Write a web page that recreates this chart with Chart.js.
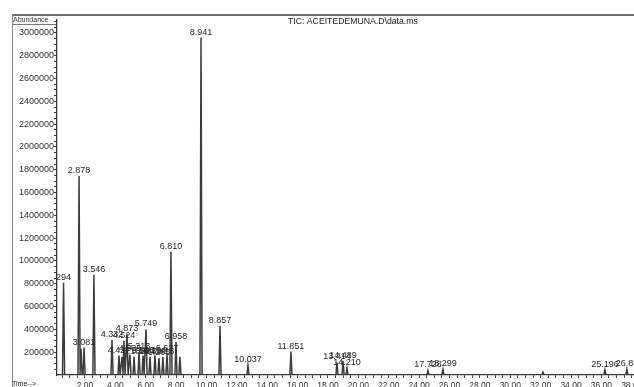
<!DOCTYPE html>
<html>
<head>
<meta charset="utf-8">
<script src="https://cdn.jsdelivr.net/npm/chart.js@4/dist/chart.umd.min.js"></script>
<style>
  html, body { margin: 0; padding: 0; background: #fff; overflow: hidden; }
  #wrap { position: relative; width: 660px; height: 392px; }
</style>
</head>
<body>
<div id="wrap"><canvas id="tic" width="660" height="392"></canvas></div>
<script>
// peak retention positions (x axis units), abundances and their printed labels
const peakTimes = [0.59, 1.61, 1.74, 1.94, 2.59, 3.78, 4.24, 4.44, 4.57, 4.77, 4.96, 5.23, 5.56, 5.82, 6.02, 6.28, 6.61, 6.87, 7.13, 7.40, 7.66, 7.99, 8.25, 9.64, 10.89, 12.73, 15.56, 18.59, 18.99, 19.25, 24.58, 25.57, 32.15, 36.23, 37.68];
const peakHeights = [810000, 1745000, 230000, 240000, 880000, 310000, 170000, 160000, 300000, 360000, 180000, 160000, 200000, 170000, 400000, 160000, 170000, 150000, 160000, 180000, 1080000, 290000, 160000, 2960000, 430000, 85000, 205000, 110000, 125000, 60000, 40000, 50000, 25000, 45000, 50000];
const peakLabels = ["294", "2.878", "", "3.081", "3.546", "4.332", "4.427", "", "4.524", "4.873", "4.935", "5.108", "5.313", "5.506", "5.749", "5.871", "6.104", "6.265", "6.413", "6.627", "6.810", "6.958", "", "8.941", "8.857", "10.037", "11.851", "13.414", "14.489", "14.210", "17.728", "18.299", "", "25.196", "26.89"];

const xMin = 0.158, xMax = 39.2;
const yMax = 3114000;
const xTickLabels = ["2.00", "4.00", "6.00", "8.00", "10.00", "12.00", "14.00", "16.00", "18.00", "20.00", "22.00", "24.00", "26.00", "28.00", "30.00", "32.00", "34.00", "36.00", "38.00"];
const yTickLabels = ["200000", "400000", "600000", "800000", "1000000", "1200000", "1400000", "1600000", "1800000", "2000000", "2200000", "2400000", "2600000", "2800000", "3000000"];
const title = "TIC: ACEITEDEMUNA.D\\data.ms";

// spike trace built from the peak list
const trace = [{ x: xMin, y: 0 }];
peakTimes.forEach((t, i) => {
    trace.push({ x: t - 0.07, y: 0 });
    trace.push({ x: t, y: peakHeights[i] });
    trace.push({ x: t + 0.07, y: 0 });
});
trace.push({ x: xMax, y: 0 });

const FONT = "'Liberation Sans', Arial, sans-serif";

const frame = {
    id: 'frame',
    beforeDraw(chart) {
        const c = chart.ctx;
        c.save();
        c.strokeStyle = '#6e6a78';
        c.lineWidth = 2;
        c.beginPath(); c.moveTo(12, 15); c.lineTo(660, 15); c.stroke();
        c.strokeStyle = '#8a8a8a';
        c.lineWidth = 1;
        c.beginPath(); c.moveTo(12.5, 15); c.lineTo(12.5, 392); c.stroke();
        // Abundance box
        c.fillStyle = '#333';
        c.font = '7px ' + FONT;
        c.textBaseline = 'middle';
        c.fillText('Abundance', 13, 20);
        c.strokeStyle = '#777';
        c.beginPath(); c.moveTo(13, 24.5); c.lineTo(57, 24.5); c.stroke();
        // title
        c.font = '8.7px ' + FONT;
        c.fillStyle = '#222';
        c.textAlign = 'left';
        c.fillText(title, 288, 22);
        // Time label
        c.font = '7px ' + FONT;
        c.fillText('Time-->', 12, 384);
        c.restore();
    },
    afterDatasetsDraw(chart) {
        const c = chart.ctx, xs = chart.scales.x, ys = chart.scales.y;
        c.save();
        c.font = '9px ' + FONT;
        c.fillStyle = '#2a2a2a';
        c.textAlign = 'center';
        c.textBaseline = 'bottom';
        peakTimes.forEach((t, i) => {
            if (!peakLabels[i]) return;
            c.fillText(peakLabels[i], xs.getPixelForValue(t), ys.getPixelForValue(peakHeights[i]) - 1);
        });
        c.restore();
    }
};

new Chart(document.getElementById('tic'), {
    type: 'scatter',
    data: {
        datasets: [{
            data: trace,
            showLine: true,
            borderColor: '#3c3c3c',
            borderWidth: 1.5,
            pointRadius: 0,
            tension: 0
        }]
    },
    options: {
        responsive: false,
        animation: false,
        devicePixelRatio: 1,
        layout: { padding: { top: 20, left: 0, right: 10, bottom: 0 } },
        plugins: { legend: { display: false }, tooltip: { enabled: false } },
        scales: {
            x: {
                type: 'linear',
                min: xMin,
                max: xMax,
                afterBuildTicks(s) {
                    const t = [];
                    for (let v = 0.5; v <= 39; v += 0.5) t.push({ value: v });
                    s.ticks = t;
                },
                afterFit(s) { s.height = 17; },
                grid: { drawOnChartArea: false, drawTicks: true, tickLength: 3, color: '#444' },
                border: { color: '#333', width: 1.3 },
                ticks: {
                    autoSkip: false,
                    maxRotation: 0,
                    padding: 3,
                    color: '#333',
                    font: { family: FONT, size: 8.5 },
                    callback: (v) => {
                        const i = xTickLabels.indexOf(Number(v).toFixed(2));
                        return i >= 0 ? xTickLabels[i] : '';
                    }
                }
            },
            y: {
                min: 0,
                max: yMax,
                afterBuildTicks(s) {
                    const t = [];
                    for (let v = 50000; v <= 3100000; v += 50000) t.push({ value: v });
                    s.ticks = t;
                },
                afterFit(s) { s.width = 57; },
                grid: { drawOnChartArea: false, drawTicks: true, tickLength: 3, color: '#444' },
                border: { color: '#333', width: 1.3 },
                ticks: {
                    autoSkip: false,
                    padding: 0,
                    color: '#333',
                    font: { family: FONT, size: 9 },
                    callback: (v) => {
                        const s = String(v);
                        return yTickLabels.includes(s) ? s : '';
                    }
                }
            }
        }
    },
    plugins: [frame]
});
</script>
</body>
</html>
